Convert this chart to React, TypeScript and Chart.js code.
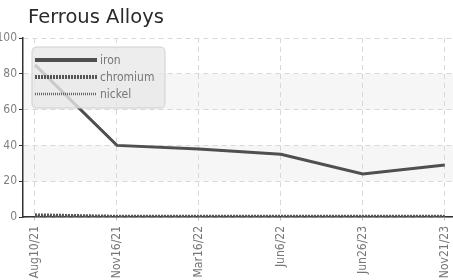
import React, { useEffect, useRef } from "react";
import { Chart, registerables } from "chart.js";

Chart.register(...registerables);

const categories = ["Aug10/21", "Nov16/21", "Mar16/22", "Jun6/22", "Jun26/23", "Nov21/23"];
const ironValues = [85, 40, 38, 35, 24, 29];
const chromiumValues = [1.2, 0.4, 0.4, 0.4, 0.4, 0.4];
const nickelValues = [0.3, 0.2, 0.2, 0.2, 0.2, 0.2];
const yTicks = [0, 20, 40, 60, 80, 100];
const bands = [[20, 40], [60, 80]];
const titleText = "Ferrous Alloys";

const TICK_FONT = "'DejaVu Sans Condensed', 'DejaVu Sans', sans-serif";

const bandPlugin = {
  id: "bands",
  beforeDraw(chart: any) {
    const { ctx, chartArea, scales } = chart;
    const y = scales.y;
    ctx.save();
    ctx.fillStyle = "#f6f6f6";
    for (const [a, b] of bands) {
      const y1 = y.getPixelForValue(b);
      const y2 = y.getPixelForValue(a);
      ctx.fillRect(chartArea.left, y1, chartArea.right - chartArea.left, y2 - y1);
    }
    ctx.restore();
  },
};

const titlePlugin = {
  id: "customTitle",
  afterDraw(chart: any) {
    const { ctx } = chart;
    ctx.save();
    ctx.font = "19.5px 'DejaVu Sans', sans-serif";
    ctx.fillStyle = "#2a2a2a";
    ctx.textBaseline = "alphabetic";
    ctx.textAlign = "left";
    ctx.fillText(titleText, 28, 23);
    ctx.restore();
  },
};

const legendPlugin = {
  id: "customLegend",
  afterDatasetsDraw(chart: any) {
    const { ctx } = chart;
    const x = 32, y = 47, w = 133, h = 61, r = 5;
    ctx.save();
    ctx.beginPath();
    ctx.moveTo(x + r, y);
    ctx.lineTo(x + w - r, y);
    ctx.quadraticCurveTo(x + w, y, x + w, y + r);
    ctx.lineTo(x + w, y + h - r);
    ctx.quadraticCurveTo(x + w, y + h, x + w - r, y + h);
    ctx.lineTo(x + r, y + h);
    ctx.quadraticCurveTo(x, y + h, x, y + h - r);
    ctx.lineTo(x, y + r);
    ctx.quadraticCurveTo(x, y, x + r, y);
    ctx.closePath();
    ctx.fillStyle = "rgba(232,232,232,0.8)";
    ctx.fill();
    ctx.strokeStyle = "#cfcfcf";
    ctx.lineWidth = 1;
    ctx.stroke();
    const rows = [60, 77, 94];
    chart.data.datasets.forEach((ds: any, i: number) => {
      const ry = rows[i];
      ctx.beginPath();
      ctx.setLineDash(ds.borderDash || []);
      ctx.lineWidth = i === 2 ? 2.5 : 4;
      ctx.strokeStyle = ds.borderColor;
      ctx.moveTo(35, ry);
      ctx.lineTo(97, ry);
      ctx.stroke();
      ctx.setLineDash([]);
      ctx.font = "12px " + TICK_FONT;
      ctx.fillStyle = "#777";
      ctx.textBaseline = "middle";
      ctx.textAlign = "left";
      ctx.fillText(ds.label, 100, ry + 1);
    });
    ctx.restore();
  },
};

export default function App() {
  const ref = useRef<HTMLCanvasElement | null>(null);
  useEffect(() => {
    document.body.style.margin = "0";
    const chart = new Chart(ref.current!, {
      type: "line",
      data: {
        datasets: [
          {
            label: "iron",
            data: ironValues.map((v, i) => ({ x: i, y: v })),
            borderColor: "#4f4f4f",
            borderWidth: 3,
            pointRadius: 0,
          },
          {
            label: "chromium",
            data: chromiumValues.map((v, i) => ({ x: i, y: v })),
            borderColor: "#555555",
            borderWidth: 3,
            borderDash: [2, 1],
            pointRadius: 0,
          },
          {
            label: "nickel",
            data: nickelValues.map((v, i) => ({ x: i, y: v })),
            borderColor: "#666666",
            borderWidth: 2,
            borderDash: [1, 1],
            pointRadius: 0,
          },
        ],
      },
      options: {
        animation: false,
        responsive: false,
        maintainAspectRatio: false,
        layout: { padding: { top: 38, left: 0, right: 0, bottom: 0 } },
        plugins: { legend: { display: false }, title: { display: false }, tooltip: { enabled: false } },
        scales: {
          x: {
            type: "linear",
            min: -0.146,
            max: 5.1,
            afterBuildTicks: (s: any) => {
              s.ticks = categories.map((_, i) => ({ value: i }));
            },
            afterFit: (s: any) => {
              s.height = 63;
              s.paddingLeft = 0;
              s.paddingRight = 0;
            },
            ticks: {
              autoSkip: false,
              minRotation: 90,
              maxRotation: 90,
              color: "#777",
              font: { family: TICK_FONT, size: 12 },
              padding: 5,
              callback: (v: any) => categories[v] ?? "",
            },
            grid: { color: "#d8d8d8", tickColor: "#bbb", tickLength: 4, tickBorderDash: [3, 3] },
            border: { display: true, color: "#333", width: 1.5, dash: [5, 4] },
          },
          y: {
            min: 0,
            max: 100,
            afterBuildTicks: (s: any) => {
              s.ticks = yTicks.map((v) => ({ value: v }));
            },
            afterFit: (s: any) => {
              s.width = 23;
            },
            ticks: {
              color: "#808080",
              font: { family: TICK_FONT, size: 12 },
              padding: 2,
            },
            grid: { color: "#d8d8d8", tickColor: "#333", tickLength: 4, tickBorderDash: [] },
            border: { display: true, color: "#333", width: 1.5, dash: [5, 4] },
          },
        },
      },
      plugins: [bandPlugin, legendPlugin, titlePlugin],
    } as any);
    return () => chart.destroy();
  }, []);
  return (
    <div style={{ position: "absolute", left: 0, top: 0, width: 453, height: 280 }}>
      <canvas ref={ref} width={453} height={280} style={{ width: 453, height: 280 }} />
    </div>
  );
}
